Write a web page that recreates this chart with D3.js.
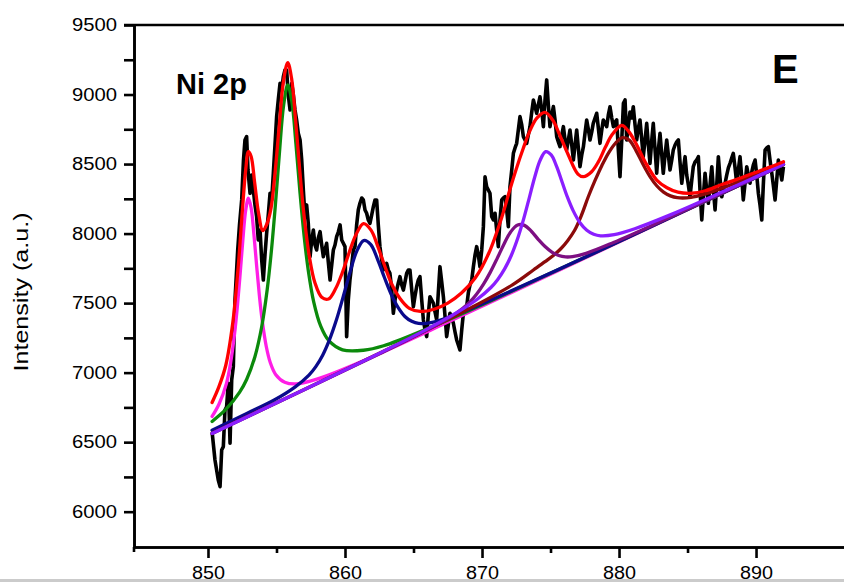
<!DOCTYPE html>
<html>
<head>
<meta charset="utf-8">
<script src="https://cdn.jsdelivr.net/npm/d3@7/dist/d3.min.js"></script>
<style>
  html, body { margin: 0; padding: 0; background: #ffffff; }
  svg { display: block; }
  text { font-family: "Liberation Sans", Arial, sans-serif; }
</style>
</head>
<body>
<svg id="chart" width="844" height="582"></svg>
<script>
// Ni 2p XPS spectrum (binding energy in eV, intensity in a.u.)
const rawSpectrum = [
  [850.31,6564],[850.51,6372],[850.75,6228],[850.88,6180],[851.00,6444],[851.12,6468],[851.24,6731],[851.36,6755],
  [851.48,6923],[851.61,6492],[851.73,6947],[851.85,7043],[851.97,7522],[852.17,7882],[852.30,8062],[852.46,8242],
  [852.59,8529],[852.70,8673],[852.82,8697],[852.92,8457],[853.07,8290],[853.18,8421],[853.31,8313],[853.43,8206],
  [853.55,8121],[853.67,7954],[853.80,8026],[853.92,7810],[854.04,7666],[854.16,7846],[854.28,8002],[854.40,8134],
  [854.53,8290],[854.65,8242],[854.77,8434],[854.89,8637],[855.01,8841],[855.13,8961],[855.26,9081],[855.38,9033],
  [855.50,9128],[855.62,9176],[855.74,9176],[855.86,8997],[855.99,8889],[856.11,9081],[856.23,8997],[856.35,8889],
  [856.47,8817],[856.59,8721],[856.72,8673],[856.84,8529],[856.96,8313],[857.08,8121],[857.20,8206],[857.32,8074],
  [857.45,7834],[857.57,7954],[857.69,8026],[857.81,7918],[857.93,7882],[858.05,7968],[858.18,8014],[858.30,7918],
  [858.42,7834],[858.54,7882],[858.66,7930],[858.78,7796],[858.91,7666],[859.03,7774],[859.15,7882],[859.27,7918],
  [859.39,7978],[859.51,8011],[859.64,8062],[859.76,7954],[859.88,7930],[860.00,7906],[860.12,7259],[860.24,7522],
  [860.36,7666],[860.49,7774],[860.61,7882],[860.73,7906],[860.85,8062],[860.97,8170],[861.09,8218],[861.22,8256],
  [861.34,8242],[861.46,8170],[861.58,8146],[861.70,8098],[861.82,8074],[861.95,8134],[862.07,8194],[862.19,8242],
  [862.31,8242],[862.43,8062],[862.55,7906],[862.68,7810],[862.80,7738],[862.92,7753],[863.04,7786],[863.16,7738],
  [863.28,7714],[863.41,7594],[863.53,7427],[863.65,7522],[863.77,7594],[863.89,7645],[864.01,7690],[864.14,7630],
  [864.26,7594],[864.38,7652],[864.50,7714],[864.62,7738],[864.74,7738],[864.87,7594],[864.99,7474],[865.11,7551],
  [865.23,7618],[865.35,7666],[865.47,7690],[865.60,7522],[865.72,7379],[865.84,7307],[865.96,7259],[866.08,7415],
  [866.20,7546],[866.33,7522],[866.45,7499],[866.57,7436],[866.69,7379],[866.81,7573],[866.93,7762],[867.06,7652],
  [867.18,7546],[867.30,7407],[867.42,7259],[867.54,7343],[867.66,7427],[867.79,7393],[867.91,7355],[868.03,7292],
  [868.15,7235],[868.27,7199],[868.39,7163],[868.52,7307],[868.64,7427],[868.76,7451],[868.88,7474],[869.00,7573],
  [869.12,7630],[869.25,7666],[869.37,7762],[869.49,7846],[869.61,7906],[869.73,7846],[869.85,7762],[869.98,7882],
  [870.10,8050],[870.22,8409],[870.34,8337],[870.46,8313],[870.58,8290],[870.71,8121],[870.83,8098],[870.95,8146],
  [871.07,8026],[871.19,7906],[871.31,8098],[871.44,8242],[871.56,8256],[871.68,8265],[871.80,8170],[871.92,8050],
  [872.04,8337],[872.17,8457],[872.29,8577],[872.41,8616],[872.53,8649],[872.65,8745],[872.77,8841],[872.90,8781],
  [873.02,8697],[873.14,8673],[873.26,8649],[873.38,8709],[873.50,8769],[873.63,8874],[873.75,8961],[873.87,8913],
  [873.99,8865],[874.11,8925],[874.23,8984],[874.36,8889],[874.48,8769],[874.60,8961],[874.72,9105],[874.84,8925],
  [874.96,8769],[875.09,8853],[875.21,8913],[875.33,8817],[875.45,8697],[875.57,8659],[875.69,8625],[875.82,8709],
  [875.94,8769],[876.06,8673],[876.18,8601],[876.30,8673],[876.42,8745],[876.55,8637],[876.67,8529],[876.79,8637],
  [876.91,8745],[877.03,8616],[877.15,8481],[877.28,8565],[877.40,8625],[877.52,8723],[877.64,8817],[877.77,8745],
  [877.88,8673],[878.01,8731],[878.12,8793],[878.25,8831],[878.37,8865],[878.49,8759],[878.61,8649],[878.74,8745],
  [878.85,8817],[878.98,8795],[879.10,8769],[879.22,8853],[879.34,8912],[879.47,8831],[879.59,8769],[879.71,8802],
  [879.83,8817],[879.95,8601],[880.07,8409],[880.20,8673],[880.32,8937],[880.44,8961],[880.56,8673],[880.68,8781],
  [880.80,8874],[880.93,8831],[881.04,8912],[881.17,8781],[881.29,8673],[881.41,8759],[881.53,8817],[881.66,8673],
  [881.77,8553],[881.90,8673],[882.02,8793],[882.14,8637],[882.26,8505],[882.39,8673],[882.50,8793],[882.63,8601],
  [882.75,8434],[882.87,8601],[882.99,8721],[883.12,8565],[883.23,8434],[883.36,8565],[883.48,8673],[883.60,8565],
  [883.72,8457],[883.85,8529],[883.96,8601],[884.09,8637],[884.21,8659],[884.33,8673],[884.45,8515],[884.58,8362],
  [884.69,8457],[884.82,8553],[884.94,8421],[885.06,8349],[885.18,8265],[885.31,8385],[885.42,8481],[885.55,8515],
  [885.67,8529],[885.79,8553],[885.91,8313],[886.04,8098],[886.16,8278],[886.28,8434],[886.40,8313],[886.52,8218],
  [886.64,8349],[886.77,8481],[886.89,8313],[887.01,8170],[887.13,8349],[887.25,8553],[887.37,8400],[887.50,8265],
  [887.61,8313],[887.74,8362],[887.86,8421],[887.98,8472],[888.10,8505],[888.23,8544],[888.34,8577],[888.47,8472],
  [888.59,8362],[888.71,8457],[888.83,8553],[888.96,8400],[889.07,8242],[889.20,8364],[889.32,8481],[889.44,8421],
  [889.56,8362],[889.69,8443],[889.80,8493],[889.93,8529],[890.05,8421],[890.17,8290],[890.29,8206],[890.42,8098],
  [890.53,8349],[890.66,8601],[890.78,8616],[890.90,8625],[891.02,8529],[891.15,8434],[891.26,8349],[891.39,8242],
  [891.51,8385],[891.63,8529],[891.75,8457],[891.88,8385],[892.00,8481]
];

// Fitted components (each drawn on top of the background)
const fitNi0a = [ // magenta, ~853 eV
  [850.3,6685],[850.8,6773],[851.35,6923],[851.65,7070],[851.95,7288],[852.15,7482],[852.35,7713],[852.55,7960],
  [852.75,8166],[852.95,8254],[853.15,8184],[853.35,7997],[853.55,7769],[853.75,7556],[853.95,7380],[854.25,7190],
  [854.55,7071],[854.95,6985],[855.6,6931],[856.45,6919],[857.95,6953],[860.95,7069],[867.95,7383],[892,8496]
];
const fitNi2a = [ // green, ~855.8 eV
  [850.3,6649],[851.3,6735],[852.3,6858],[852.82,6951],[853.42,7113],[853.92,7330],[854.32,7596],[854.62,7868],
  [854.92,8207],[855.22,8588],[855.52,8923],[855.82,9069],[856.12,8950],[856.42,8643],[856.72,8290],[857.02,7979],
  [857.32,7735],[857.72,7507],[858.22,7336],[858.82,7230],[859.82,7164],[861.34,7161],[862.82,7193],[865.82,7308],
  [870.82,7525],[880.82,7981],[892,8497]
];
const fitSat1 = [ // navy, ~861.4 eV
  [850.3,6585],[852.87,6708],[854.87,6805],[856.37,6898],[857.37,6982],[857.87,7043],[858.37,7125],[858.87,7237],
  [859.37,7378],[859.87,7546],[860.37,7724],[860.87,7876],[861.37,7950],[861.87,7922],[862.37,7817],[862.87,7686],
  [863.37,7564],[863.87,7469],[864.37,7404],[864.87,7369],[865.37,7354],[866.37,7362],[867.87,7409],[869.87,7489],
  [875.37,7732],[881.37,8006],[892,8497]
];
const fitNi0b = [ // dark purple, ~872.6 eV
  [850.3,6562],[857.6,6903],[862.6,7139],[865.6,7286],[867.6,7394],[868.6,7463],[869.1,7507],[869.6,7564],
  [870.1,7635],[870.6,7721],[871.1,7820],[871.6,7924],[872.1,8013],[872.6,8062],[873.1,8059],[873.6,8017],
  [874.1,7959],[874.6,7907],[875.1,7867],[875.6,7842],[876.1,7832],[876.6,7834],[877.6,7858],[879.6,7936],
  [882.6,8067],[887.6,8295],[892,8497]
];
const fitNi2b = [ // violet, ~874.7 eV
  [850.3,6563],[857.3,6891],[861.65,7098],[865.65,7295],[868.15,7431],[869.65,7528],[870.65,7612],[871.15,7670],
  [871.65,7746],[872.15,7846],[872.65,7979],[873.05,8109],[873.45,8257],[873.85,8407],[874.25,8529],[874.65,8589],
  [875.05,8566],[875.45,8481],[875.85,8369],[876.25,8258],[876.65,8165],[877.15,8078],[877.65,8024],[878.15,7995],
  [878.65,7984],[879.65,7992],[881.15,8035],[883.65,8131],[887.65,8304],[892,8498]
];
const fitSat2 = [ // brown, ~880.2 eV
  [850.3,6564],[860.25,7031],[865.25,7271],[869.25,7469],[872.25,7633],[873.75,7738],[874.6,7798],[875.25,7846],
  [875.75,7891],[876.25,7949],[876.75,8022],[877.25,8130],[877.75,8263],[878.25,8382],[878.75,8490],[879.25,8583],
  [879.75,8651],[880.25,8690],[880.75,8672],[881.25,8595],[881.75,8499],[882.25,8412],[882.75,8344],[883.25,8298],
  [883.75,8271],[884.25,8258],[885.25,8260],[886.25,8284],[888.25,8354],[890.25,8435],[892,8511]
];
const fitEnvelope = [ // red, cumulative fit
  [850.3,6785],[850.8,6899],[851.3,7053],[851.8,7351],[852.2,7755],[852.5,8152],[852.75,8455],[852.95,8590],
  [853.15,8555],[853.4,8372],[853.7,8142],[854.0,8021],[854.3,8069],[854.6,8183],[854.9,8443],[855.2,8776],
  [855.5,9089],[855.82,9230],[856.1,9116],[856.4,8809],[856.7,8452],[857.0,8140],[857.4,7834],[857.8,7648],
  [858.3,7542],[858.8,7530],[859.3,7601],[859.8,7718],[860.3,7862],[860.8,7992],[861.35,8072],[861.9,8025],
  [862.4,7906],[862.9,7767],[863.4,7639],[864.0,7535],[864.7,7462],[865.5,7440],[866.5,7456],[867.5,7500],
  [868.5,7572],[869.5,7680],[870.5,7860],[871.5,8135],[872.0,8305],[872.5,8465],[873.0,8610],[873.5,8740],
  [874.0,8830],[874.6,8872],[875.2,8810],[875.6,8725],[876.3,8565],[877.0,8428],[877.4,8409],[878.0,8445],
  [878.5,8517],[879.0,8620],[879.5,8712],[880.2,8778],[880.7,8735],[881.2,8655],[881.9,8517],[882.75,8385],
  [883.5,8330],[884.3,8298],[885.3,8290],[886.3,8308],[887.4,8349],[888.6,8390],[889.8,8434],[891.0,8478],
  [892.0,8517]
];

// Axis ticks
const xMajorTicks = [850, 860, 870, 880, 890];
const xMinorTicks = [855, 865, 875, 885];
const yMajorTicks = [6000, 6500, 7000, 7500, 8000, 8500, 9000, 9500];
const yMinorTicks = [6250, 6750, 7250, 7750, 8250, 8750, 9250];

const svg = d3.select("#chart");

const x = d3.scaleLinear().domain([844.6, 896.42]).range([134, 844]);
const y = d3.scaleLinear().domain([5746, 9500]).range([547, 25]);

const line = d3.line()
  .x(d => x(d[0]))
  .y(d => y(d[1]));
const smooth = d3.line()
  .x(d => x(d[0]))
  .y(d => y(d[1]))
  .curve(d3.curveCatmullRom.alpha(0.5));

// Measured spectrum
svg.append("path")
  .datum(rawSpectrum)
  .attr("d", line)
  .attr("fill", "none")
  .attr("stroke", "#000000")
  .attr("stroke-width", 3.6)
  .attr("stroke-linejoin", "round");

// Fit components, back to front
const components = [
  { data: fitNi0a, color: "#ff1ee6" },
  { data: fitNi2a, color: "#0b8a0b" },
  { data: fitSat1, color: "#0a0a8c" },
  { data: fitSat2, color: "#8b0a0a" },
  { data: fitNi0b, color: "#7d0f82" },
  { data: fitNi2b, color: "#8a1eff" },
  { data: fitEnvelope, color: "#ff0000" }
];
components.forEach(c => {
  svg.append("path")
    .datum(c.data)
    .attr("d", smooth)
    .attr("fill", "none")
    .attr("stroke", c.color)
    .attr("stroke-width", 3.3)
    .attr("stroke-linejoin", "round")
    .attr("stroke-linecap", "round");
});

// Axes
const axisStroke = 2.6;

const gy = svg.append("g").attr("transform", "translate(134,0)");
gy.call(d3.axisLeft(y).tickValues(yMajorTicks).tickSize(10).tickSizeOuter(0).tickPadding(7).tickFormat(d3.format("d")));
const gyMinor = svg.append("g").attr("transform", "translate(134,0)");
gyMinor.call(d3.axisLeft(y).tickValues(yMinorTicks).tickSize(10).tickSizeOuter(0).tickFormat(""));

const gx = svg.append("g").attr("transform", "translate(0,547)");
gx.call(d3.axisBottom(x).tickValues(xMajorTicks).tickSize(11).tickSizeOuter(0).tickPadding(8).tickFormat(d3.format("d")));
const gxMinor = svg.append("g").attr("transform", "translate(0,547)");
gxMinor.call(d3.axisBottom(x).tickValues(xMinorTicks).tickSize(6).tickSizeOuter(0).tickFormat(""));

svg.selectAll(".domain").attr("stroke", "#000").attr("stroke-width", axisStroke);
svg.selectAll(".tick line").attr("stroke", "#000").attr("stroke-width", axisStroke);

gy.selectAll(".tick text")
  .attr("font-size", 18)
  .attr("fill", "#000")
  .attr("textLength", 45)
  .attr("lengthAdjust", "spacingAndGlyphs");
gx.selectAll(".tick text")
  .attr("font-size", 18)
  .attr("fill", "#000")
  .attr("textLength", 33)
  .attr("lengthAdjust", "spacingAndGlyphs");

// Frame top edge and the short overhang of the left axis
svg.append("line")
  .attr("x1", 124).attr("x2", 844)
  .attr("y1", y(9500)).attr("y2", y(9500))
  .attr("stroke", "#000").attr("stroke-width", axisStroke);
svg.append("line")
  .attr("x1", 134).attr("x2", 134)
  .attr("y1", 547).attr("y2", 552)
  .attr("stroke", "#000").attr("stroke-width", axisStroke);

// Axis title
svg.append("text")
  .attr("transform", "translate(28,292) rotate(-90)")
  .attr("text-anchor", "middle")
  .attr("font-size", 20)
  .attr("fill", "#000")
  .attr("textLength", 159)
  .attr("lengthAdjust", "spacingAndGlyphs")
  .text("Intensity (a.u.)");

// Panel annotations
svg.append("text")
  .attr("x", 176).attr("y", 94)
  .attr("font-size", 29)
  .attr("font-weight", "bold")
  .attr("fill", "#000")
  .text("Ni 2p");
svg.append("text")
  .attr("x", 772).attr("y", 83)
  .attr("font-size", 40)
  .attr("font-weight", "bold")
  .attr("fill", "#000")
  .text("E");

// Bottom edge strip
svg.append("rect")
  .attr("x", 0).attr("y", 579)
  .attr("width", 844).attr("height", 3)
  .attr("fill", "#cbcbcb");
</script>
</body>
</html>
